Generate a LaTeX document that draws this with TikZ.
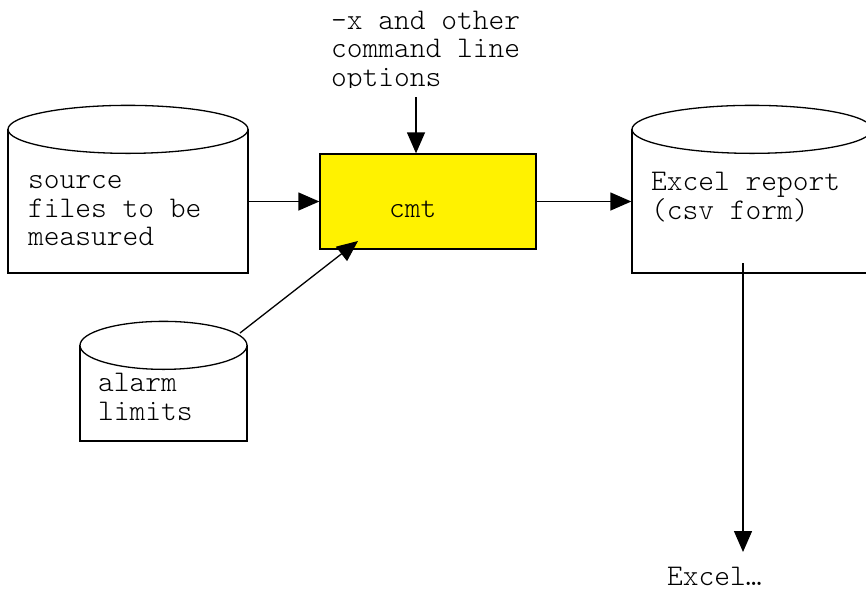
\documentclass[tikz,border=0pt]{standalone}
\usepackage{fontspec}
\newfontfamily\couriertt{Latin Modern Mono Light}
\usepackage{tikz}
\usetikzlibrary{arrows.meta,positioning}

\begin{document}
\begin{tikzpicture}[
    x=1pt, y=-1pt,
    font=\couriertt\fontsize{30}{28.5}\selectfont,
    drum/.style={rectangle, draw=black, fill=white, line width=1.3pt, inner sep=0pt},
    rim/.style={draw=black, fill=white, line width=1.3pt},
    tool/.style={rectangle, draw=black, fill=yellow, line width=1.3pt, minimum width=216pt, minimum height=95pt, inner sep=0pt},
    lbl/.style={align=left, inner sep=0pt, anchor=west},
    flow/.style={-{Triangle[length=21pt, width=18pt]}, line width=1.3pt},
]
\useasboundingbox (0,0) rectangle (866,590);
\clip (0,0) rectangle (866,590);

% Options text (cut off at the bottom)
\begin{scope}
\clip (300,0) rectangle (600,87);
\node[lbl] (optlbl) at (331,52) {-x and other\\command line\\options};
\end{scope}
\coordinate (optout) at (416,97);

% Source files
\node[drum, minimum width=240pt, minimum height=143pt] (src) at (128,201.5) {};
\draw[rim] (src.north) ellipse [x radius=120pt, y radius=24pt];
\node[lbl] (srclbl) at (28,211) {source\\files to be\\measured};

% cmt
\node[tool] (cmt) at (428,201.5) {};
\node[lbl] (cmtlbl) at (389,209) {cmt};

% Excel report
\node[drum, minimum width=240pt, minimum height=143pt] (xls) at (752,201.5) {};
\draw[rim] (xls.north) ellipse [x radius=120pt, y radius=24pt];
\node[lbl] (xlslbl) at (651,197) {Excel report\\(csv form)};
\coordinate (xlsout) at (743,263);

% Alarm limits
\node[drum, minimum width=167pt, minimum height=95pt] (alarm) at (163.5,393.5) {};
\draw[rim] (alarm.north) ellipse [x radius=83.5pt, y radius=24pt];
\node[lbl] (alarmlbl) at (98,397) {alarm\\limits};
\coordinate (alarmout) at (240,333);
\coordinate (cmtin) at (358,241);

% Excel...
\node[lbl] (excel) at (667,576) {Excel\ldots};
\coordinate (excelin) at (743,552);

% Arrows
\draw[flow] (optout) -- (optout |- cmt.north);
\draw[flow] (src.east) -- (cmt.west);
\draw[flow] (cmt.east) -- (xls.west);
\draw[flow] (alarmout) -- (cmtin);
\draw[flow] (xlsout) -- (excelin);
\end{tikzpicture}
\end{document}
